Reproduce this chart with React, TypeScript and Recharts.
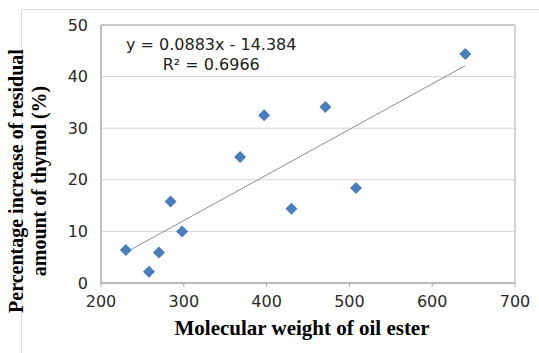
import React from "react";
import {
  ScatterChart,
  Scatter,
  XAxis,
  YAxis,
  CartesianGrid,
  ReferenceArea,
  ReferenceLine,
} from "recharts";

// molecular weight of oil ester vs % increase of residual thymol
const xValues = [230, 258, 270, 284, 298, 368, 397, 430, 471, 508, 640];
const yValues = [6.4, 2.2, 5.9, 15.8, 10.0, 24.4, 32.5, 14.4, 34.1, 18.4, 44.4];
const xTicks = [200, 300, 400, 500, 600, 700];
const yTicks = [0, 10, 20, 30, 40, 50];
const slope = 0.0883;
const intercept = -14.384;
const trendRange = [230, 640];

const points = xValues.map((x, i) => ({ x, y: yValues[i] }));
const trend = trendRange.map((x) => ({ x, y: slope * x + intercept }));

const BLUE = "#4a7ebb";
const GRID = "#d4d4d4";
const FRAME = "#a9a9a9";
const TICK = { fill: "#2a2a2a", fontSize: 16, fontFamily: "DejaVu Sans" };
const SERIF = "'Liberation Serif', 'Times New Roman', serif";

const Diamond = (props: any) => {
  const { cx, cy } = props;
  const r = 6;
  return (
    <polygon
      points={`${cx},${cy - r} ${cx + r},${cy} ${cx},${cy + r} ${cx - r},${cy}`}
      fill={BLUE}
    />
  );
};

export default function App() {
  return (
    <div style={{ position: "absolute", left: 0, top: 0, width: 539, height: 353, background: "#fff" }}>
      <div
        style={{
          position: "absolute",
          left: 21,
          top: 9,
          width: 540,
          height: 360,
          borderTop: "1px solid #dcdcdc",
          borderLeft: "1px solid #dcdcdc",
        }}
      />
      <ScatterChart
        width={539}
        height={353}
        margin={{ top: 25, right: 24, left: 40, bottom: 40 }}
        style={{ position: "absolute", left: 0, top: 0 }}
      >
        <CartesianGrid stroke={GRID} vertical={false} />
        <XAxis
          type="number"
          dataKey="x"
          domain={[200, 700]}
          ticks={xTicks}
          height={30}
          tick={TICK}
          axisLine={{ stroke: FRAME }}
          tickLine={{ stroke: FRAME }}
          tickSize={4}
          tickMargin={9}
        />
        <YAxis
          type="number"
          dataKey="y"
          domain={[0, 50]}
          ticks={yTicks}
          width={61}
          tick={TICK}
          axisLine={{ stroke: FRAME }}
          tickLine={false}
          tickMargin={7}
        />
        <ReferenceArea x1={200} x2={700} y1={0} y2={50} fill="none" stroke={FRAME} />
        <ReferenceLine
          segment={[
            { x: trend[0].x, y: trend[0].y },
            { x: trend[1].x, y: trend[1].y },
          ]}
          stroke="#8c8c8c"
          strokeWidth={1}
        />
        <Scatter data={points} fill={BLUE} shape={<Diamond />} isAnimationActive={false} />
      </ScatterChart>

      <div
        style={{
          position: "absolute",
          left: 126,
          top: 35,
          fontFamily: "DejaVu Sans",
          fontSize: 16,
          color: "#222",
          lineHeight: "20px",
          whiteSpace: "pre",
          textAlign: "center",
        }}
      >
        {"y = 0.0883x - 14.384\nR² = 0.6966"}
      </div>

      <div
        style={{
          position: "absolute",
          left: 302,
          top: 328,
          transform: "translate(-50%, -50%)",
          fontFamily: SERIF,
          fontWeight: "bold",
          fontSize: 21,
          whiteSpace: "nowrap",
          color: "#000",
        }}
      >
        Molecular weight of oil ester
      </div>

      <div
        style={{
          position: "absolute",
          left: 28,
          top: 181,
          width: 360,
          transform: "translate(-50%, -50%) rotate(-90deg)",
          fontFamily: SERIF,
          fontWeight: "bold",
          fontSize: 20,
          lineHeight: "23px",
          textAlign: "center",
          color: "#000",
        }}
      >
        Percentage increase of residual
        <br />
        amount of thymol (%)
      </div>
    </div>
  );
}
